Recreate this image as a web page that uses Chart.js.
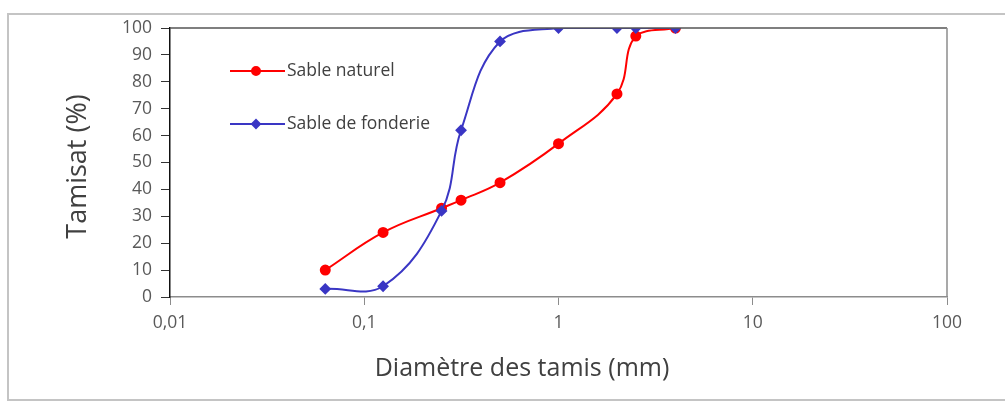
<!DOCTYPE html>
<html>
<head>
<meta charset="utf-8">
<script src="https://cdn.jsdelivr.net/npm/chart.js@4"></script>
<style>
  html, body { margin: 0; padding: 0; background: #fff; }
  #wrap { position: relative; width: 1005px; height: 403px; }
</style>
</head>
<body>
<div id="wrap"><canvas id="granulo" width="1005" height="403"></canvas></div>
<script>
// diamètres des tamis (mm) et tamisats cumulés (%)
const diametres = [0.063, 0.125, 0.25, 0.315, 0.5, 1, 2, 2.5, 4];
const sableNaturel = [10, 24, 33, 36, 42.5, 57, 75.5, 97, 100];
const sableFonderie = [3, 4, 32, 62, 95, 100, 100, 100, 100];
const xTicks = [0.01, 0.1, 1, 10, 100];
const yTicks = [0, 10, 20, 30, 40, 50, 60, 70, 80, 90, 100];
const nomsSeries = ['Sable naturel', 'Sable de fonderie'];

const police = '"Open Sans", Lato, sans-serif';

function points(ys) {
    return diametres.map((d, i) => ({ x: d, y: ys[i] }));
}

// cadre, bords du graphe, titres des axes et légende
const decor = {
    id: 'decor',
    beforeDraw(chart) {
        const ctx = chart.ctx;
        ctx.save();
        ctx.strokeStyle = '#c4c4c4';
        ctx.lineWidth = 2;
        ctx.beginPath();
        ctx.moveTo(1005, 14);
        ctx.lineTo(8, 14);
        ctx.lineTo(8, 400);
        ctx.lineTo(1005, 400);
        ctx.stroke();
        ctx.restore();
    },
    afterDatasetsDraw(chart) {
        const ctx = chart.ctx;
        const a = chart.chartArea;
        ctx.save();
        // bord haut et droit de la zone de tracé
        ctx.strokeStyle = '#555';
        ctx.lineWidth = 1.5;
        ctx.beginPath();
        ctx.moveTo(a.left, a.top);
        ctx.lineTo(a.right, a.top);
        ctx.stroke();
        ctx.strokeStyle = '#8c8c8c';
        ctx.beginPath();
        ctx.moveTo(a.right, a.top);
        ctx.lineTo(a.right, a.bottom);
        ctx.stroke();

        // titres des axes
        ctx.fillStyle = '#404040';
        ctx.font = '27px ' + police;
        ctx.textAlign = 'center';
        ctx.textBaseline = 'middle';
        ctx.translate(78, (a.top + a.bottom) / 2 + 4);
        ctx.rotate(-Math.PI / 2);
        ctx.fillText('Tamisat (%)', 0, 0);
        ctx.setTransform(1, 0, 0, 1, 0, 0);
        ctx.font = '25px ' + police;
        ctx.fillText('Diamètre des tamis (mm)', 522, 369);

        // légende
        ctx.textAlign = 'left';
        ctx.font = '17.5px ' + police;
        chart.data.datasets.forEach((ds, i) => {
            const y = 71 + i * 53;
            ctx.strokeStyle = ds.borderColor;
            ctx.fillStyle = ds.backgroundColor;
            ctx.lineWidth = 2;
            ctx.beginPath();
            ctx.moveTo(230, y);
            ctx.lineTo(285, y);
            ctx.stroke();
            Chart.helpers.drawPoint(ctx, {
                pointStyle: ds.pointStyle,
                radius: 4,
                borderWidth: 1
            }, 256, y);
            ctx.fillStyle = '#404040';
            ctx.fillText(nomsSeries[i], 287, y);
        });
        ctx.restore();
    }
};

new Chart(document.getElementById('granulo'), {
    type: 'scatter',
    data: {
        datasets: [
            {
                label: nomsSeries[0],
                data: points(sableNaturel),
                showLine: true,
                borderColor: '#ff0000',
                backgroundColor: '#ff0000',
                borderWidth: 2,
                pointStyle: 'circle',
                pointRadius: 4.5,
                tension: 0.4,
                order: 1
            },
            {
                label: nomsSeries[1],
                data: points(sableFonderie),
                showLine: true,
                borderColor: '#3a36c4',
                backgroundColor: '#3a36c4',
                borderWidth: 2,
                pointStyle: 'rectRot',
                pointRadius: 4.5,
                tension: 0.4,
                order: 0
            }
        ]
    },
    options: {
        responsive: false,
        animation: false,
        layout: { padding: { top: 28, right: 58, left: 0, bottom: 0 } },
        plugins: {
            legend: { display: false },
            tooltip: { enabled: false }
        },
        scales: {
            x: {
                type: 'logarithmic',
                min: 0.01,
                max: 100,
                afterBuildTicks(scale) {
                    scale.ticks = xTicks.map(v => ({ value: v }));
                },
                afterFit(scale) { scale.height = 106; },
                ticks: {
                    color: '#595959',
                    font: { family: police, size: 17.5 },
                    padding: 8,
                    maxRotation: 0,
                    callback: v => String(v).replace('.', ',')
                },
                grid: {
                    drawOnChartArea: false,
                    tickLength: 8,
                    tickColor: '#8c8c8c'
                },
                border: { color: '#8c8c8c', width: 1.5 }
            },
            y: {
                min: 0,
                max: 100,
                afterBuildTicks(scale) {
                    scale.ticks = yTicks.map(v => ({ value: v }));
                },
                afterFit(scale) { scale.width = 170; },
                ticks: {
                    color: '#595959',
                    font: { family: police, size: 17.5 },
                    padding: 9
                },
                grid: {
                    drawOnChartArea: false,
                    tickLength: 9,
                    tickColor: '#333'
                },
                border: { color: '#111', width: 1.5 }
            }
        }
    },
    plugins: [decor]
});
</script>
</body>
</html>
